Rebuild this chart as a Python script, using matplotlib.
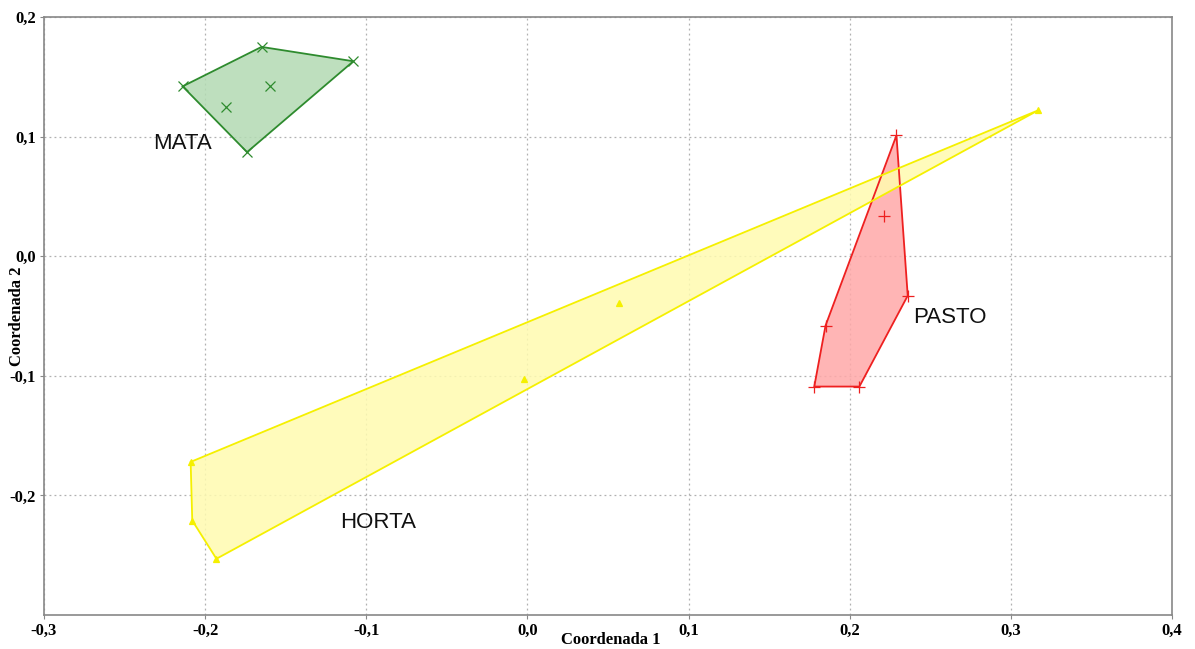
import numpy as np
import matplotlib.pyplot as plt
from matplotlib.patches import Polygon

# coordinates of each sample group (Coordenada 1, Coordenada 2)
mata_x = [-0.214, -0.165, -0.108, -0.160, -0.187, -0.174]
mata_y = [0.142, 0.175, 0.163, 0.142, 0.125, 0.087]
pasto_x = [0.229, 0.221, 0.236, 0.185, 0.178, 0.206]
pasto_y = [0.101, 0.034, -0.033, -0.058, -0.109, -0.109]
horta_x = [0.317, 0.057, -0.002, -0.209, -0.208, -0.193]
horta_y = [0.122, -0.039, -0.103, -0.172, -0.221, -0.253]

# hull vertex order (indices into the arrays above)
mata_hull = [0, 1, 2, 5]
pasto_hull = [0, 2, 5, 4, 3]
horta_hull = [0, 3, 4, 5]

groups = [
    ("MATA", mata_x, mata_y, mata_hull, "#2e8b2e", "#b3dab3", "x", 7),
    ("PASTO", pasto_x, pasto_y, pasto_hull, "#ee2020", "#ffa8a8", "+", 8),
    ("HORTA", horta_x, horta_y, horta_hull, "#f5f000", "#fffbb0", "^", 5),
]
label_pos = {"MATA": (-0.2325, 0.094), "PASTO": (0.2395, -0.051), "HORTA": (-0.116, -0.223)}

fig = plt.figure(figsize=(11.95, 6.49), dpi=100)
ax = fig.add_axes([44 / 1195, 1 - 615 / 649, 1128 / 1195, 598 / 649])

for name, xs, ys, hull, edge, face, mk, ms in groups:
    pts = np.column_stack([xs, ys])[hull]
    ax.add_patch(Polygon(pts, closed=True, facecolor=face, edgecolor="none",
                         alpha=0.85, zorder=2))
    ax.add_patch(Polygon(pts, closed=True, fill=False, edgecolor=edge, lw=1.3, zorder=3))
    ax.plot(xs, ys, linestyle="none", marker=mk, color=edge, ms=ms, mew=0.9, zorder=4)
    lx, ly = label_pos[name]
    ax.text(lx, ly, name, fontsize=16, family="Liberation Sans", color="#111111",
            va="center", ha="left", zorder=5)

ax.set_xlim(-0.3, 0.4)
ax.set_ylim(-0.3, 0.2)
xt = np.arange(-0.3, 0.41, 0.1)
yt = np.arange(-0.2, 0.21, 0.1)
ax.set_xticks(xt)
ax.set_yticks(yt)
tfont = dict(family="Liberation Serif", weight="bold", size=12)
ax.set_xticklabels([f"{v:.1f}".replace(".", ",").replace("-0,0", "0,0") for v in xt], **tfont)
ax.set_yticklabels([f"{v:.1f}".replace(".", ",").replace("-0,0", "0,0") for v in yt], **tfont)
ax.tick_params(length=3, width=0.8, color="#888888", pad=3)
ax.grid(True, linestyle=(0, (1.5, 2.5)), color="#b0b0b0", lw=0.9, zorder=0)
ax.set_axisbelow(True)
for sp in ax.spines.values():
    sp.set_color("#888888")
    sp.set_linewidth(1.2)

lfont = dict(family="Liberation Serif", weight="bold", size=12)
ax.set_xlabel("Coordenada 1", **lfont)
ax.set_ylabel("Coordenada 2", **lfont)
ax.xaxis.set_label_coords(0.502, -0.042)
ax.yaxis.set_label_coords(-0.024, 0.5)
ax.xaxis.label.set_va("center")
ax.yaxis.label.set_va("center")

fig.savefig("out.png", dpi=100)
